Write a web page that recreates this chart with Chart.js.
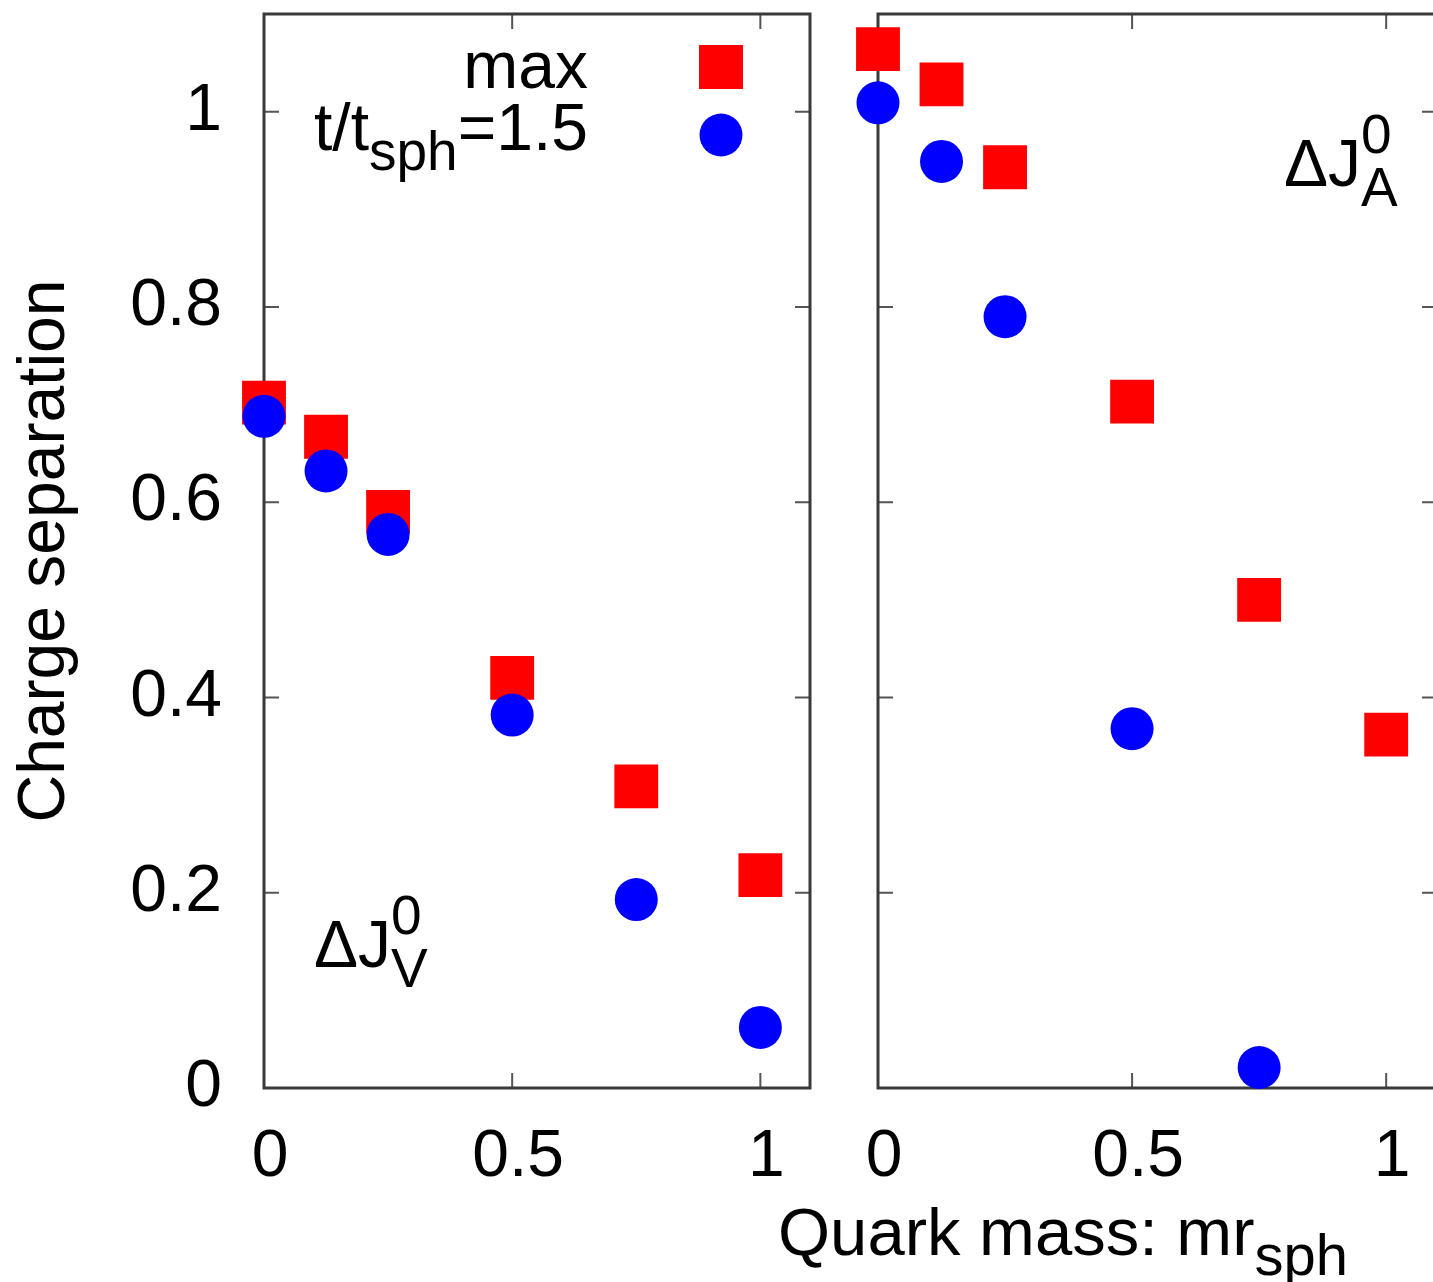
<!DOCTYPE html>
<html>
<head>
<meta charset="utf-8">
<script src="https://cdn.jsdelivr.net/npm/chart.js@4.4.1/dist/chart.umd.min.js"></script>
<style>
  html, body { margin: 0; padding: 0; background: #fff; overflow: hidden; }
  #wrap { position: relative; width: 1433px; height: 1282px; overflow: hidden; }
  canvas { position: absolute; left: 0; top: 0; }
</style>
</head>
<body>
<div id="wrap">
  <canvas id="chartV" width="1445" height="1282"></canvas>
  <canvas id="chartA" width="1445" height="1282"></canvas>
</div>
<script>
// quark mass m*r_sph
const masses = [0, 0.125, 0.25, 0.5, 0.75, 1];

// vector charge separation dJ_V^0
const vMax = [0.702, 0.667, 0.590, 0.420, 0.309, 0.218];
const vT15 = [0.688, 0.632, 0.567, 0.382, 0.193, 0.062];

// axial charge separation dJ_A^0 (last t/t_sph point is off the axis)
const aMax = [1.064, 1.028, 0.943, 0.703, 0.500, 0.362];
const aT15 = [1.009, 0.949, 0.790, 0.368, 0.021, null];

const xTicks = [0, 0.5, 1];
const yTicks = [0, 0.2, 0.4, 0.6, 0.8, 1];

const FONT = '"Liberation Sans", Arial, Helvetica, sans-serif';
const BIG = 66;
const SMALL = 55;
const RED = '#ff0000';
const BLUE = '#0000ff';
const FRAME = '#3a3a3a';

function pts(ys) {
    return masses.map((m, i) => ({ x: m, y: ys[i] })).filter(p => p.y !== null);
}

// text with sub/superscripts; parts: [text, size, dy, stacked]
function drawRich(ctx, parts, x, y, align) {
    let total = 0;
    parts.forEach(p => {
        ctx.font = p[1] + 'px ' + FONT;
        p.w = ctx.measureText(p[0]).width;
        if (!p[3]) total += p.w;
    });
    let cx = align === 'right' ? x - total : x;
    ctx.textAlign = 'left';
    ctx.textBaseline = 'alphabetic';
    ctx.fillStyle = '#000';
    parts.forEach(p => {
        ctx.font = p[1] + 'px ' + FONT;
        ctx.fillText(p[0], cx, y + p[2]);
        // a stacked part (superscript over a subscript) doesn't advance
        if (!p[3]) cx += p.w;
    });
}

function noPad(s) {
    s.paddingTop = 0;
    s.paddingBottom = 0;
    s.paddingLeft = 0;
    s.paddingRight = 0;
}

const framePlugin = {
    id: 'frame',
    beforeDatasetsDraw(chart) {
        const { ctx, chartArea: a } = chart;
        const xs = chart.scales.x, ys = chart.scales.y;
        ctx.save();
        ctx.strokeStyle = '#555';
        ctx.lineWidth = 2;
        ctx.beginPath();
        xTicks.forEach(v => {
            const px = xs.getPixelForValue(v);
            ctx.moveTo(px, a.bottom); ctx.lineTo(px, a.bottom - 15);
            ctx.moveTo(px, a.top); ctx.lineTo(px, a.top + 15);
        });
        yTicks.forEach(v => {
            const py = ys.getPixelForValue(v);
            ctx.moveTo(a.left, py); ctx.lineTo(a.left + 15, py);
            ctx.moveTo(a.right, py); ctx.lineTo(a.right - 15, py);
        });
        ctx.stroke();
        ctx.strokeStyle = FRAME;
        ctx.lineWidth = 3;
        ctx.strokeRect(a.left, a.top, a.right - a.left, a.bottom - a.top);
        ctx.restore();
    }
};

function makeOptions(side) {
    const left = side === 'V';
    return {
        responsive: false,
        animation: false,
        events: [],
        layout: {
            autoPadding: false,
            padding: left ? { left: 0, right: 1445 - 810, top: 14, bottom: 0 }
                          : { left: 878, right: 8, top: 14, bottom: 0 }
        },
        plugins: {
            legend: { display: false },
            tooltip: { enabled: false }
        },
        scales: {
            x: {
                type: 'linear',
                min: 0,
                max: 1.1,
                afterBuildTicks: s => { s.ticks = xTicks.map(v => ({ value: v })); },
                afterFit: s => { s.height = 1282 - 1088; noPad(s); },
                grid: { display: false, drawTicks: false },
                border: { display: false },
                ticks: {
                    padding: 30,
                    labelOffset: 6,
                    color: '#000',
                    font: { family: FONT, size: BIG },
                    maxRotation: 0,
                    callback: v => String(v)
                }
            },
            y: {
                type: 'linear',
                display: left,
                min: 0,
                max: 1.1,
                afterBuildTicks: s => { s.ticks = yTicks.map(v => ({ value: v })); },
                afterFit: s => { s.width = left ? 264 : 0; noPad(s); },
                grid: { display: false, drawTicks: false },
                border: { display: false },
                ticks: {
                    padding: 42,
                    color: '#000',
                    font: { family: FONT, size: BIG },
                    callback: v => String(v)
                },
                title: {
                    display: true,
                    text: 'Charge separation',
                    color: '#000',
                    font: { family: FONT, size: BIG },
                    padding: { top: 6, bottom: 0 }
                }
            }
        }
    };
}

function datasets(maxVals, tVals) {
    return [
        {
            label: 'max',
            data: pts(maxVals),
            pointStyle: 'rect',
            pointRadius: 31,
            backgroundColor: RED,
            borderWidth: 0,
            clip: false,
            order: 1
        },
        {
            label: 't/t_sph=1.5',
            data: pts(tVals),
            pointStyle: 'circle',
            pointRadius: 21.5,
            backgroundColor: BLUE,
            borderWidth: 0,
            clip: false,
            order: 0
        }
    ];
}

new Chart(document.getElementById('chartV'), {
    type: 'scatter',
    data: { datasets: datasets(vMax, vT15) },
    options: makeOptions('V'),
    plugins: [framePlugin, {
        id: 'textV',
        afterDraw(chart) {
            const ctx = chart.ctx, a = chart.chartArea;
            ctx.save();
            // legend
            drawRich(ctx, [['max', BIG, 0]], a.left + 324, 88, 'right');
            drawRich(ctx, [['t/t', BIG, 0], ['sph', SMALL, 20], ['=1.5', BIG, 0]], a.left + 324, 150, 'right');
            ctx.fillStyle = RED;
            ctx.fillRect(a.left + 435, 45, 44, 44);
            ctx.fillStyle = BLUE;
            ctx.beginPath();
            ctx.arc(a.left + 457, 135, 21.5, 0, Math.PI * 2);
            ctx.fill();
            // panel label
            drawRich(ctx, [['\u0394J', BIG, 0], ['0', SMALL, -33, true], ['V', SMALL, 20]], 314, 967, 'left');
            ctx.restore();
        }
    }]
});

new Chart(document.getElementById('chartA'), {
    type: 'scatter',
    data: { datasets: datasets(aMax, aT15) },
    options: makeOptions('A'),
    plugins: [framePlugin, {
        id: 'textA',
        afterDraw(chart) {
            const ctx = chart.ctx;
            ctx.save();
            drawRich(ctx, [['\u0394J', BIG, 0], ['0', SMALL, -33, true], ['A', SMALL, 20]], 1284, 186, 'left');
            // x axis title
            drawRich(ctx, [['Quark mass: mr', 67, 0], ['sph', 58, 20]], 778, 1255, 'left');
            ctx.restore();
        }
    }]
});
</script>
</body>
</html>
